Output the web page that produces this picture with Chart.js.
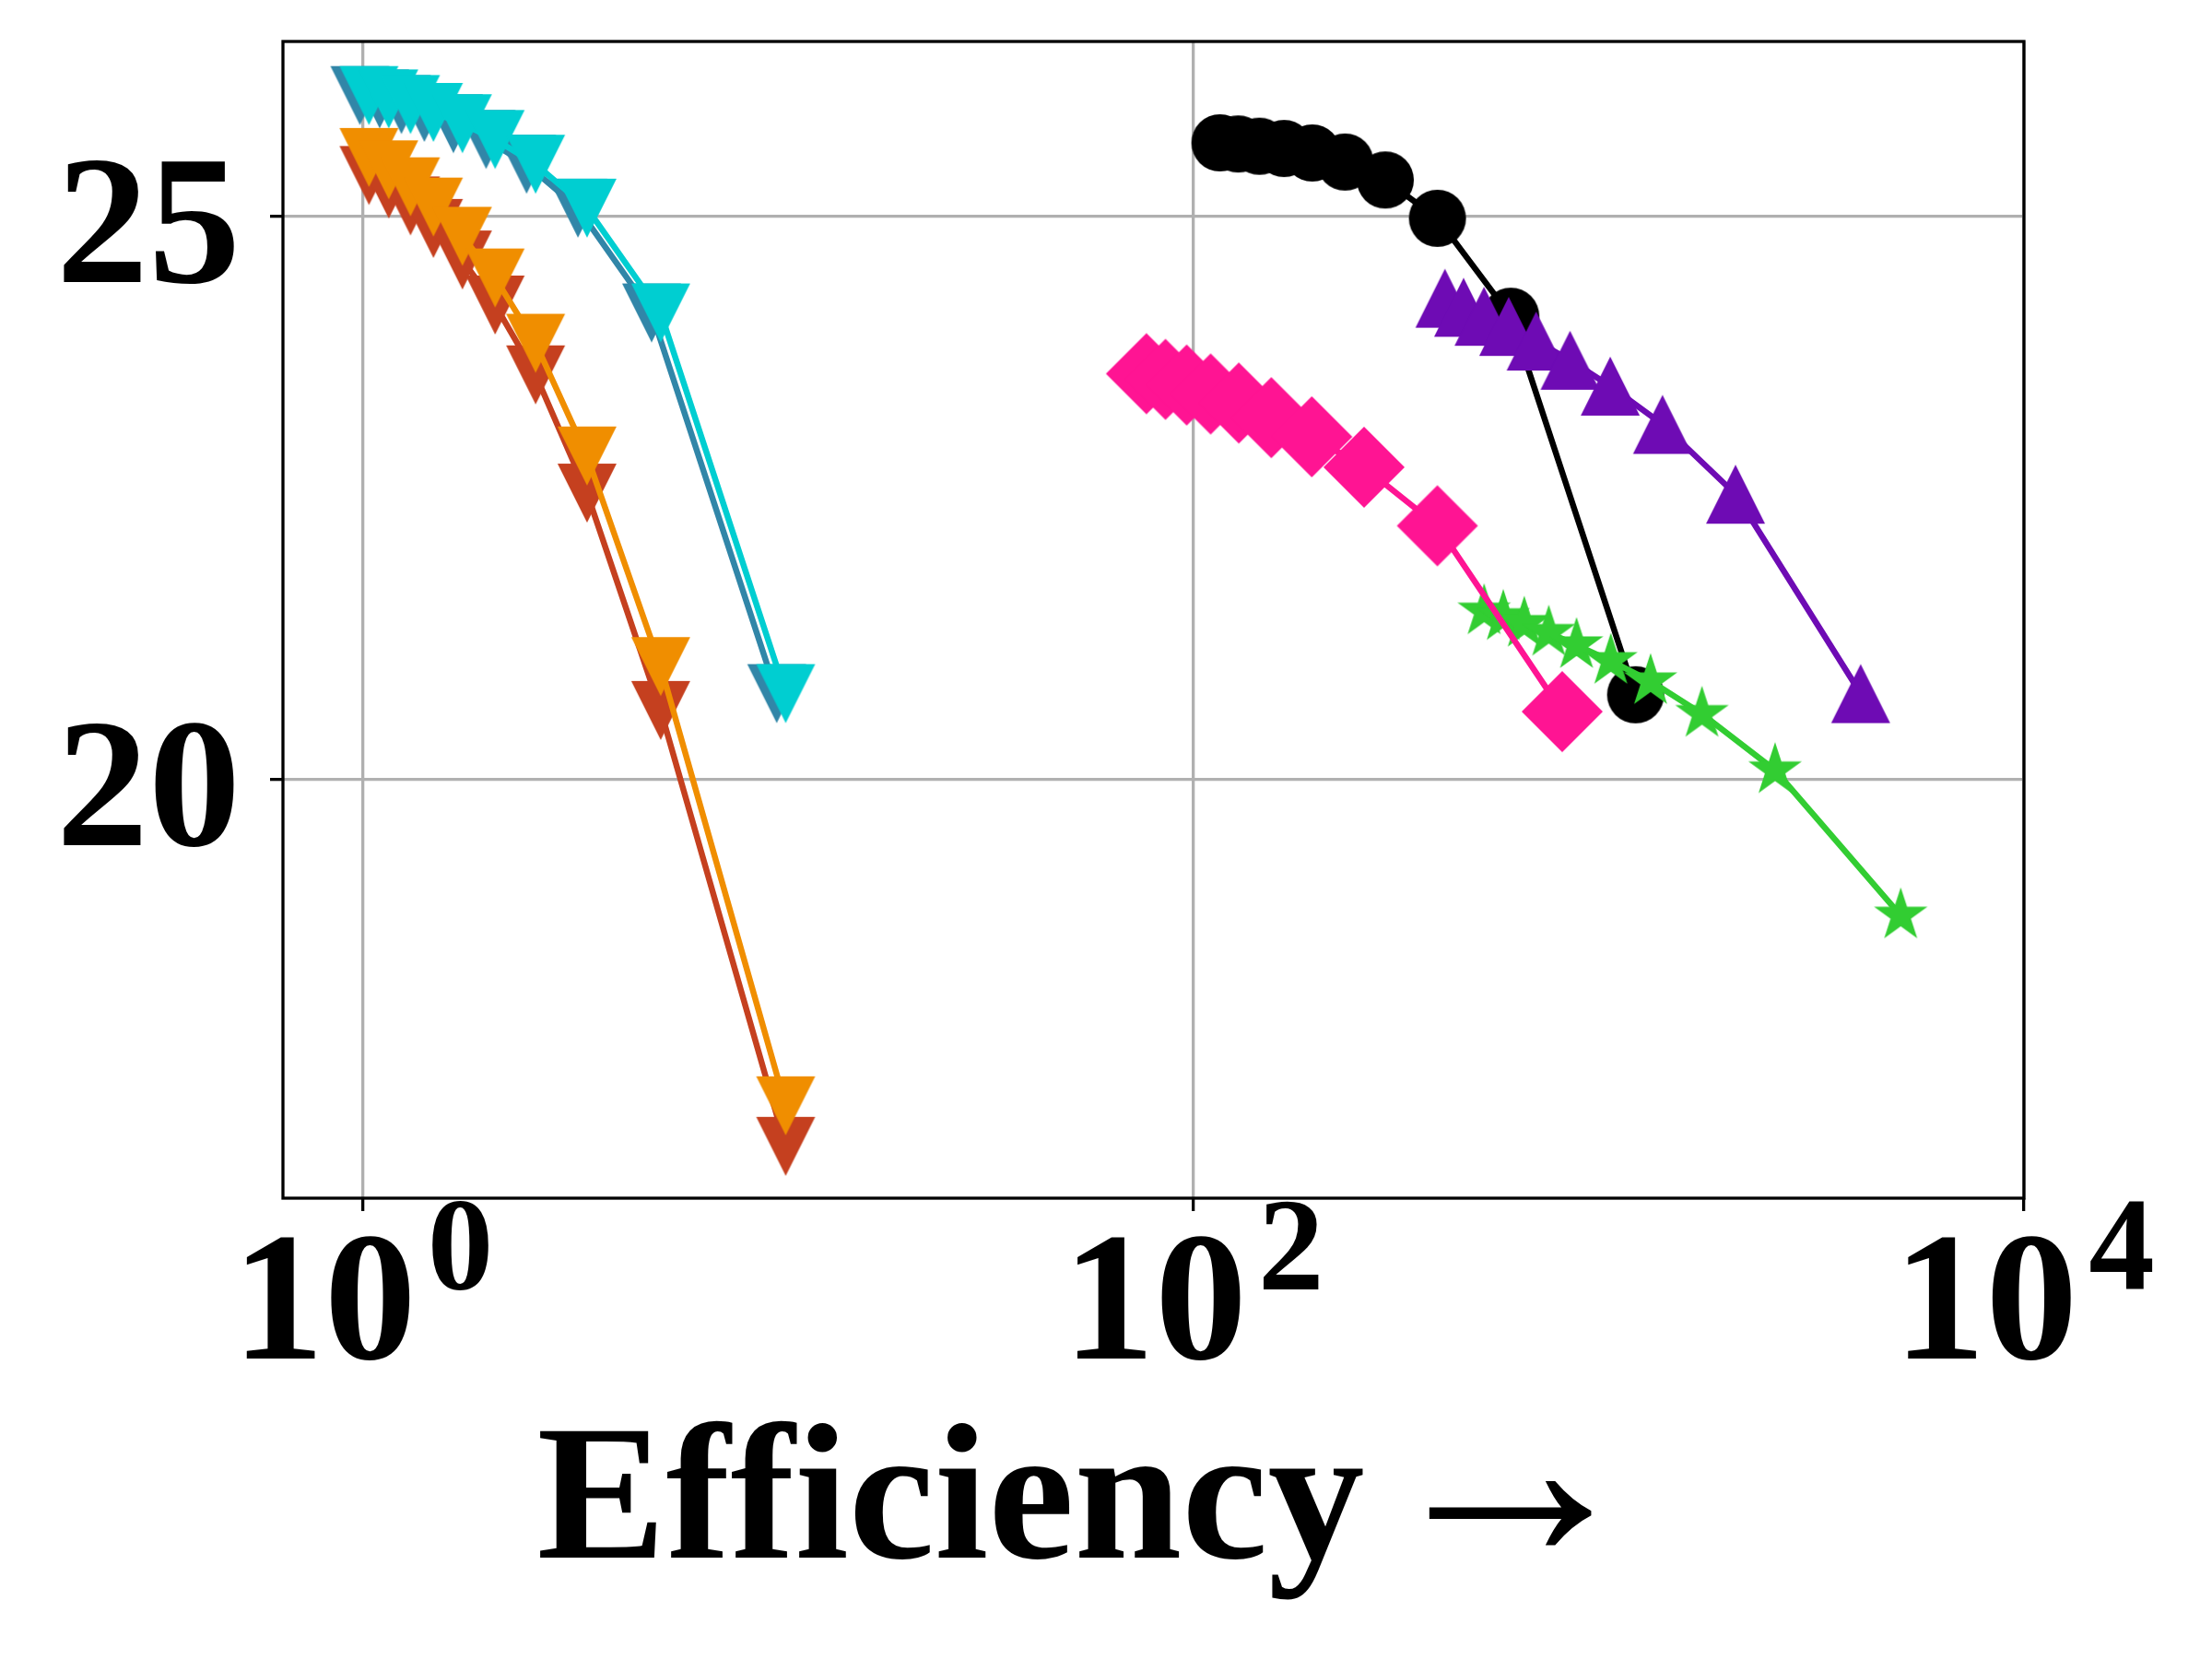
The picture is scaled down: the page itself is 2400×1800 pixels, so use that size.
<!DOCTYPE html>
<html lang="en">
<head>
<meta charset="utf-8">
<title>Efficiency</title>
<script src="https://cdn.jsdelivr.net/npm/chart.js@4.4.1/dist/chart.umd.min.js"></script>
<style>
  html, body { margin: 0; padding: 0; background: #ffffff; }
  #wrap { width: 2400px; height: 1800px; }
</style>
</head>
<body>
<div id="wrap"><canvas id="effChart" width="2400" height="1800"></canvas></div>
<script>
// -------------------------------
// DATA
// -------------------------------
const leftX  = [1.036, 1.156, 1.304, 1.481, 1.739, 2.085, 2.61, 3.47, 5.22, 10.44];
const tealX  = [0.985, 1.099, 1.240, 1.408, 1.654, 1.983, 2.482, 3.30, 4.964, 9.93];
const tealY  = [26.07, 26.04, 25.99, 25.92, 25.82, 25.68, 25.46, 25.07, 24.14, 20.76];
const cyanY  = [26.07, 26.04, 25.99, 25.92, 25.82, 25.68, 25.46, 25.07, 24.14, 20.76];
const redY   = [25.36, 25.24, 25.09, 24.89, 24.61, 24.21, 23.59, 22.54, 20.61, 16.74];
const orangeY = [25.52, 25.41, 25.26, 25.08, 24.82, 24.45, 23.87, 22.87, 21.00, 17.10];

const blackX = [115.9, 128.3, 144.3, 165.4, 193.4, 231.9, 289.9, 387.1, 581.4, 1161];
const blackY = [25.65, 25.64, 25.62, 25.60, 25.56, 25.48, 25.32, 24.98, 24.11, 20.75];

const purpleX = [403.5, 447.5, 501.1, 574.5, 669.0, 807.3, 1008.8, 1348, 2021, 4044];
const purpleY = [24.27, 24.19, 24.11, 24.02, 23.89, 23.72, 23.49, 23.15, 22.53, 20.76];

const pinkX = [77.1, 85.7, 96.4, 110.1, 128.7, 154.1, 192.9, 257.7, 386.9, 773.0];
const pinkY = [23.60, 23.55, 23.50, 23.42, 23.34, 23.21, 23.04, 22.77, 22.25, 20.60];

const greenX = [501.5, 557.5, 626.4, 717.5, 837.1, 1012.3, 1261.5, 1677.4, 2515.7, 5050];
const greenY = [21.49, 21.44, 21.38, 21.30, 21.19, 21.05, 20.87, 20.58, 20.08, 18.79];

const xRange = [0.643, 10000];
const yRange = [16.28, 26.55];
const xTickValues = [1, 100, 10000];
const xTickExponents = ["0", "2", "4"];
const yTickValues = [20, 25];
const xLabelWord = "Efficiency";
const xLabelArrow = "\u2192";

document.addEventListener("DOMContentLoaded", () => {
  const FONT = '"Liberation Serif", "DejaVu Serif", serif';

  // -------------------------------
  // MARKERS (matplotlib-like shapes)
  // -------------------------------
  function makeMarker(shape, color) {
    const c = document.createElement("canvas");
    c.width = 96;
    c.height = 96;
    const g = c.getContext("2d");
    const m = 48;
    g.fillStyle = color;
    g.beginPath();

    if (shape === "triDown") {
      const h = 32;
      g.moveTo(m - h, m - h);
      g.lineTo(m + h, m - h);
      g.lineTo(m, m + h);
    } else if (shape === "triUp") {
      const h = 32;
      g.moveTo(m, m - h);
      g.lineTo(m + h, m + h);
      g.lineTo(m - h, m + h);
    } else if (shape === "circle") {
      g.arc(m, m, 31, 0, Math.PI * 2);
    } else if (shape === "diamond") {
      const d = 44;
      g.moveTo(m, m - d);
      g.lineTo(m + d, m);
      g.lineTo(m, m + d);
      g.lineTo(m - d, m);
    } else if (shape === "star") {
      const r = 30.5;
      const ri = r * 0.381966;
      for (let k = 0; k < 10; k++) {
        const rr = k % 2 === 0 ? r : ri;
        const a = -Math.PI / 2 + (k * Math.PI) / 5;
        const px = m + rr * Math.cos(a);
        const py = m + rr * Math.sin(a);
        if (k === 0) g.moveTo(px, py);
        else g.lineTo(px, py);
      }
    }

    g.closePath();
    g.fill();
    return c;
  }

  function series(xs, ys, color, shape, order) {
    return {
      data: xs.map((x, i) => ({ x: x, y: ys[i] })),
      showLine: true,
      fill: false,
      tension: 0,
      borderColor: color,
      backgroundColor: color,
      borderWidth: 6.5,
      borderJoinStyle: "round",
      pointStyle: makeMarker(shape, color),
      pointRadius: 30,
      pointHoverRadius: 30,
      order: order
    };
  }

  // -------------------------------
  // FRAME + X LABELS
  // -------------------------------
  const frameAndLabels = {
    id: "frameAndLabels",
    afterDatasetsDraw(chart) {
      const { ctx, chartArea: a } = chart;
      ctx.save();
      ctx.strokeStyle = "#000000";
      ctx.lineWidth = 3.3;
      ctx.strokeRect(a.left, a.top, a.right - a.left, a.bottom - a.top);
      ctx.restore();
    },
    afterDraw(chart) {
      const { ctx, chartArea: a } = chart;
      const xs = chart.scales.x;
      const mainFont = `bold 200px ${FONT}`;
      const expFont = `bold 143px ${FONT}`;

      ctx.save();
      ctx.fillStyle = "#000000";
      ctx.textBaseline = "alphabetic";
      ctx.textAlign = "left";

      xTickValues.forEach((v, i) => {
        const px = xs.getPixelForValue(v);
        ctx.font = mainFont;
        const wMain = ctx.measureText("10").width;
        ctx.font = expFont;
        const wExp = ctx.measureText(xTickExponents[i]).width;
        const gap = 12;
        const start = px - (wMain + gap + wExp) / 2;

        ctx.font = mainFont;
        ctx.fillText("10", start, a.bottom + 174);
        ctx.font = expFont;
        ctx.fillText(xTickExponents[i], start + wMain + gap, a.bottom + 99);
      });

      // axis title: bold word + thin arrow, sized by ink extents
      const wordFont = `bold 210px ${FONT}`;
      ctx.font = `100px ${FONT}`;
      const probe = ctx.measureText(xLabelArrow);
      const probeInk = probe.actualBoundingBoxLeft + probe.actualBoundingBoxRight;
      const arrowSize = probeInk > 0 ? (100 * 178) / probeInk : 260;
      const arrowFont = `${arrowSize.toFixed(1)}px ${FONT}`;

      ctx.font = wordFont;
      const mw = ctx.measureText(xLabelWord);
      const wordInk = mw.actualBoundingBoxLeft + mw.actualBoundingBoxRight;
      ctx.font = arrowFont;
      const ma = ctx.measureText(xLabelArrow);
      const arrowInk = ma.actualBoundingBoxLeft + ma.actualBoundingBoxRight;

      const gapInk = 72;
      const centerX = a.left + 0.4495 * (a.right - a.left);
      const inkLeft = centerX - (wordInk + gapInk + arrowInk) / 2;
      const base = a.bottom + 390;
      const shaftY = a.bottom + 340;

      ctx.font = wordFont;
      ctx.fillText(xLabelWord, inkLeft + mw.actualBoundingBoxLeft, base);
      ctx.font = arrowFont;
      const arrowBase = shaftY + (ma.actualBoundingBoxAscent - ma.actualBoundingBoxDescent) / 2;
      ctx.fillText(xLabelArrow, inkLeft + wordInk + gapInk + ma.actualBoundingBoxLeft, arrowBase);
      ctx.restore();
    }
  };

  const gridOpts = {
    color: "#b0b0b0",
    lineWidth: 3.3,
    drawTicks: true,
    tickColor: "#000000",
    tickLength: 14,
    tickWidth: 3.3
  };

  // -------------------------------
  // CHART
  // -------------------------------
  const ctx = document.getElementById("effChart").getContext("2d");

  new Chart(ctx, {
    type: "scatter",
    data: {
      datasets: [
        series(tealX, tealY, "#3186a8", "triDown", 8),
        series(leftX, cyanY, "#00ced1", "triDown", 7),
        series(leftX, redY, "#c5401f", "triDown", 6),
        series(leftX, orangeY, "#f08e00", "triDown", 5),
        series(blackX, blackY, "#000000", "circle", 4),
        series(greenX, greenY, "#32cd32", "star", 3),
        series(pinkX, pinkY, "#ff1493", "diamond", 2),
        series(purpleX, purpleY, "#6e0bb4", "triUp", 1)
      ]
    },
    options: {
      responsive: false,
      animation: false,
      devicePixelRatio: 1,
      layout: {
        padding: { left: 0, top: 45, right: 204, bottom: 0 }
      },
      plugins: {
        legend: { display: false },
        tooltip: { enabled: false }
      },
      scales: {
        x: {
          type: "logarithmic",
          min: xRange[0],
          max: xRange[1],
          afterBuildTicks: (scale) => {
            scale.min = xRange[0];
            scale.max = xRange[1];
            scale.ticks = xTickValues.map((v) => ({ value: v }));
          },
          afterFit: (scale) => {
            scale.height = 500;
          },
          ticks: { display: false },
          grid: gridOpts,
          border: { display: false }
        },
        y: {
          type: "linear",
          min: yRange[0],
          max: yRange[1],
          afterBuildTicks: (scale) => {
            scale.min = yRange[0];
            scale.max = yRange[1];
            scale.ticks = yTickValues.map((v) => ({ value: v }));
          },
          afterFit: (scale) => {
            scale.width = 307;
            scale.paddingTop = 0;
            scale.paddingBottom = 0;
          },
          ticks: {
            color: "#000000",
            padding: 32,
            labelOffset: 20,
            font: { family: FONT, size: 200, weight: "bold" }
          },
          grid: gridOpts,
          border: { display: false }
        }
      }
    },
    plugins: [frameAndLabels]
  });
});
</script>
</body>
</html>
